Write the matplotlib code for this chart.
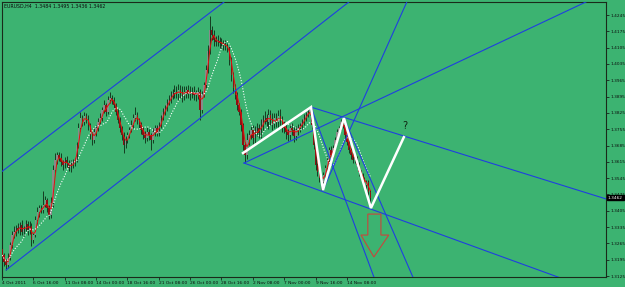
import numpy as np
import pandas as pd
import matplotlib
matplotlib.use('Agg')
import matplotlib.pyplot as plt
from matplotlib.patches import Polygon

BG = '#3cb371'
DARK = '#0e2a14'
BLUE = '#1f3fe0'

# EURUSD H4, prices in pips (x 1e-4), one value per bar from 4 Oct 2011 00:00
first_open = 13240
close_pips = [
    13215, 13185, 13172, 13202, 13258, 13301, 13314, 13331, 13323, 13344,
    13314, 13331, 13348, 13323, 13340, 13280, 13301, 13365, 13400, 13417,
    13408, 13430, 13451, 13417, 13387, 13439, 13580, 13623, 13644, 13631,
    13614, 13601, 13623, 13610, 13588, 13601, 13614, 13623, 13687, 13760,
    13803, 13786, 13812, 13795, 13773, 13730, 13709, 13743, 13760, 13786,
    13803, 13837, 13859, 13829, 13880, 13889, 13880, 13859, 13829, 13795,
    13760, 13730, 13687, 13709, 13730, 13752, 13773, 13803, 13816, 13795,
    13773, 13752, 13730, 13717, 13743, 13730, 13709, 13743, 13760, 13739,
    13773, 13803, 13829, 13846, 13867, 13880, 13898, 13910, 13915, 13906,
    13923, 13910, 13902, 13915, 13923, 13906, 13910, 13915, 13902, 13906,
    13915, 13837, 13902, 13945, 14009, 14090, 14180, 14159, 14138, 14129,
    14133, 14125, 14121, 14116, 14112, 14103, 14052, 13988, 13932, 13902,
    13859, 13829, 13773, 13687, 13644, 13709, 13730, 13752, 13717, 13743,
    13760, 13739, 13773, 13795, 13803, 13786, 13816, 13795, 13777, 13803,
    13786, 13812, 13795, 13773, 13760, 13743, 13730, 13760, 13752, 13726,
    13752, 13760, 13769, 13786, 13803, 13816, 13829, 13837, 13773, 13687,
    13601, 13571, 13546, 13528, 13558, 13588, 13623, 13666, 13644, 13674,
    13709, 13743, 13760, 13786, 13773, 13730, 13700, 13666, 13644, 13623,
    13631, 13601, 13571, 13558, 13537, 13516, 13528, 13484, 13462,
]
upper_wick = [
    15, 10, 12, 20, 14, 18, 25, 12, 20, 15,
    22, 10, 18, 12, 20, 14, 10, 16, 20, 12,
    15, 60, 18, 10, 12, 25, 20, 30, 15, 12,
    20, 10, 14, 18, 12, 22, 15, 10, 12, 20,
    25, 15, 18, 12, 20, 10, 14, 16, 12, 18,
    20, 15, 22, 10, 18, 25, 12, 15, 10, 14,
    12, 10, 15, 18, 12, 14, 20, 16, 34, 12,
    10, 14, 12, 16, 20, 12, 10, 18, 14, 12,
    15, 12, 18, 14, 16, 20, 22, 18, 30, 25,
    28, 20, 30, 25, 18, 22, 30, 20, 26, 18,
    20, 12, 15, 14, 20, 25, 60, 18, 22, 15,
    25, 18, 20, 15, 22, 12, 10, 14, 12, 15,
    12, 10, 14, 10, 12, 28, 20, 15, 22, 25,
    20, 18, 25, 22, 30, 18, 25, 20, 28, 22,
    20, 25, 30, 18, 22, 20, 14, 16, 20, 12,
    15, 18, 12, 14, 16, 12, 14, 13, 10, 8,
    10, 8, 12, 10, 15, 12, 18, 14, 16, 12,
    14, 12, 10, 12, 17, 10, 12, 8, 10, 12,
    14, 10, 12, 10, 8, 12, 10, 11, 11,
]
lower_wick = [
    20, 15, 21, 12, 10, 14, 12, 18, 15, 20,
    12, 18, 14, 20, 16, 25, 12, 10, 15, 20,
    12, 14, 10, 18, 15, 12, 16, 14, 18, 12,
    15, 20, 12, 18, 14, 16, 12, 15, 10, 12,
    14, 18, 12, 15, 20, 18, 22, 14, 16, 12,
    10, 14, 12, 18, 10, 12, 16, 14, 12, 15,
    18, 20, 34, 12, 14, 12, 10, 14, 12, 16,
    14, 18, 16, 20, 12, 22, 43, 14, 18, 12,
    12, 14, 10, 12, 14, 10, 12, 15, 20, 18,
    25, 22, 28, 20, 24, 18, 26, 22, 20, 24,
    20, 42, 12, 10, 14, 12, 14, 20, 25, 18,
    15, 20, 18, 22, 15, 18, 20, 25, 22, 18,
    20, 15, 25, 22, 34, 18, 22, 15, 25, 20,
    18, 22, 20, 25, 18, 22, 28, 20, 24, 18,
    22, 25, 20, 28, 22, 30, 24, 20, 22, 26,
    18, 20, 15, 12, 14, 12, 10, 12, 15, 18,
    20, 15, 18, 34, 12, 14, 10, 15, 12, 14,
    10, 12, 14, 10, 12, 15, 12, 14, 16, 12,
    14, 12, 15, 18, 12, 14, 16, 12, 26,
]

date_ticks = [0, 16, 32, 48, 64, 80, 96, 112, 128, 144, 160, 176]
date_labels = ['4 Oct 2011', '6 Oct 16:00', '11 Oct 08:00', '14 Oct 00:00',
               '18 Oct 16:00', '21 Oct 08:00', '26 Oct 00:00', '28 Oct 16:00',
               '2 Nov 08:00', '7 Nov 00:00', '9 Nov 16:00', '14 Nov 08:00']
price_ticks = list(range(14245, 13124, -70))

# trend lines: (bar, price) anchor -> second point, drawn as rays
trend_lines = [
    ((-0.5, 13571), (113.3, 14301)),
    ((2.0, 13151), (177.0, 14301)),
    ((123.5, 13610), (298.0, 14301)),
    ((123.5, 13610), (283.7, 13121)),
    ((157.7, 13850), (308.7, 13455)),
    ((174.5, 13803), (209.7, 13121)),
    ((157.7, 13850), (189.8, 13121)),
    ((163.8, 13494), (206.6, 14301)),
]
zigzag_bars = [123, 157.7, 163.8, 174.5, 188.3, 205.1]
zigzag_price = [13653, 13850, 13494, 13803, 13417, 13721]
arrow_bars = [186.7, 193.4, 193.4, 197.4, 189.8, 183.2, 186.7]
arrow_price = [13391, 13391, 13301, 13301, 13207, 13301, 13301]

close = np.array(close_pips) / 1e4
opens = np.array([first_open] + close_pips[:-1]) / 1e4
highs = np.maximum(opens, close) + np.array(upper_wick) / 1e4
lows = np.minimum(opens, close) - np.array(lower_wick) / 1e4
x = np.arange(len(close))

fig = plt.figure(figsize=(6.25, 2.87), dpi=100, facecolor=BG)
ax = fig.add_axes([2 / 625, 10 / 287, 604 / 625, 275 / 287])
ax.set_facecolor(BG)

# candles
ax.vlines(x, lows, highs, color=DARK, lw=0.6, zorder=2)
up = close >= opens
body = np.where(np.abs(close - opens) < 0.0003, 0.0003, close - opens)
ax.bar(x[up], body[up], bottom=opens[up], width=0.7, color='#8a8a8a',
       edgecolor='none', zorder=3)
ax.bar(x[~up], body[~up], bottom=opens[~up], width=0.7, color='#8c1212',
       edgecolor='none', zorder=3)

# moving averages
s = pd.Series(close)
ax.plot(x, s.rolling(3, min_periods=1).mean(), color='#e80c0c', lw=0.7, zorder=4)
ax.plot(x, s.rolling(10, min_periods=1).mean(), color='white', lw=0.8,
        ls=(0, (1, 1.5)), zorder=4)

# trend lines
for (b0, p0), (b1, p1) in trend_lines:
    p0, p1 = p0 / 1e4, p1 / 1e4
    k = 20
    ax.plot([b0, b0 + (b1 - b0) * k], [p0, p0 + (p1 - p0) * k],
            color=BLUE, lw=0.8, zorder=5)

ax.plot(zigzag_bars, np.array(zigzag_price) / 1e4, color='white', lw=1.8,
        zorder=6, solid_joinstyle='miter')
ax.text(zigzag_bars[-1] + 0.5, zigzag_price[-1] / 1e4 + 0.0025, '?',
        fontsize=7, color='#0e2410', ha='center', va='bottom', zorder=7)

arrow = Polygon(np.column_stack([arrow_bars, np.array(arrow_price) / 1e4]),
                closed=True, fill=False, edgecolor='#c8463c', lw=0.8, zorder=6)
ax.add_patch(arrow)

ax.set_xlim(-0.05, 308.3)
ax.set_ylim(1.3121, 1.4301)

ax.yaxis.tick_right()
ax.set_yticks(np.array(price_ticks) / 1e4)
ax.set_yticklabels(['%.4f' % (p / 1e4) for p in price_ticks])
ax.set_xticks(date_ticks)
ax.set_xticklabels(date_labels, ha='left')
ax.tick_params(axis='both', colors='#0c0c0c', length=2,
               width=0.5, pad=1.2, direction='out')
ax.tick_params(axis='x', labelsize=3.2)
ax.tick_params(axis='y', labelsize=3.1)
for sp in ax.spines.values():
    sp.set_color('#1a2a1a')
    sp.set_linewidth(0.8)

ax.text(0.004, 0.995, 'EURUSD,H4  1.3484 1.3495 1.3436 1.3462',
        transform=ax.transAxes, fontsize=3.4, color='#0c0c0c',
        ha='left', va='top')

last = close[-1]
ax.text(1.003, last, '%.4f' % last, transform=ax.get_yaxis_transform(),
        fontsize=3.1, color='white', ha='left', va='center',
        bbox=dict(boxstyle='square,pad=0.2', fc='black', ec='black'))

fig.savefig('out.png', dpi=100, facecolor=BG)
